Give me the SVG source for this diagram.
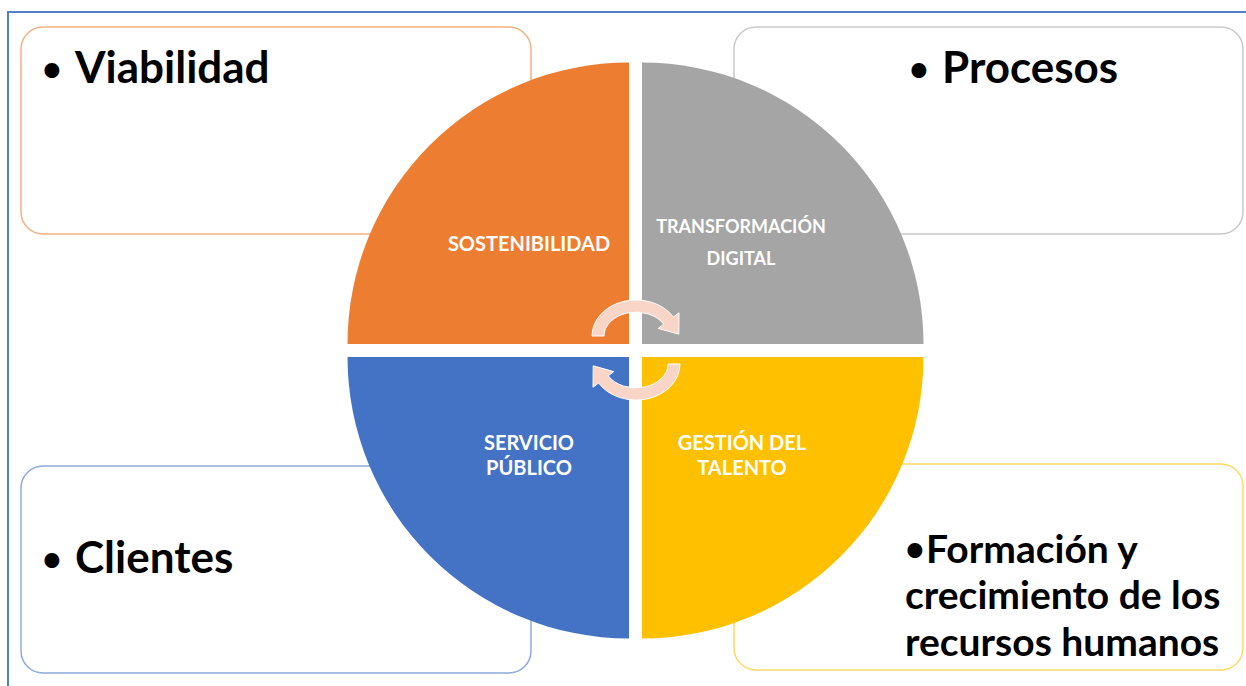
<svg xmlns="http://www.w3.org/2000/svg" width="1246" height="686" viewBox="0 0 1246 686">
<style>
.box{fill:#fff;stroke-width:1.5}
.big{font-family:Lato,"Open Sans","Liberation Sans",sans-serif;font-weight:700;font-size:44px;fill:#000}
.mid{font-family:Lato,"Open Sans","Liberation Sans",sans-serif;font-weight:700;font-size:39px;fill:#000}
.bul{font-size:34px}
.lab{font-family:Lato,"Open Sans","Liberation Sans",sans-serif;font-weight:700;font-size:20px;fill:#fff;text-anchor:middle}
.lab2{font-size:18px}
.arw{fill:#F8D5C6;stroke:#fff;stroke-width:1}
</style>
<rect width="1246" height="686" fill="#fff"/>
<path d="M8,686 L8,12 L1246,12" fill="none" stroke="#4F81C9" stroke-width="2"/>
<g id="box-viabilidad">
<rect class="box" x="21" y="27" width="510" height="207" rx="22" stroke="#F4B183"/>
<text class="big" y="83"><tspan class="bul" x="42" dy="-2">•</tspan><tspan x="75" dy="2">Viabilidad</tspan></text>
</g>
<g id="box-procesos">
<rect class="box" x="734" y="27" width="509" height="207" rx="22" stroke="#C9C9C9"/>
<text class="big" y="83"><tspan class="bul" x="909" dy="-2">•</tspan><tspan x="942" dy="2">Procesos</tspan></text>
</g>
<g id="box-clientes">
<rect class="box" x="21" y="466" width="510" height="207" rx="22" stroke="#8EAADB"/>
<text class="big" y="573"><tspan class="bul" x="42" dy="-2">•</tspan><tspan x="75" dy="2">Clientes</tspan></text>
</g>
<g id="box-formacion">
<rect class="box" x="734" y="464" width="509" height="206" rx="22" stroke="#FFD966"/>
<text class="mid" y="563"><tspan class="bul" x="905" dy="-2">•</tspan><tspan x="926" dy="2">Formación y</tspan></text>
<text class="mid" x="905" y="609">crecimiento de los</text>
<text class="mid" x="905" y="656">recursos humanos</text>
</g>
<g id="q-sostenibilidad">
<path d="M629,344 L347.5,344 A281.5,281.5 0 0 1 629,62.5 Z" fill="#ED7D31"/>
<text class="lab" x="529" y="251">SOSTENIBILIDAD</text>
</g>
<g id="q-transformacion">
<path d="M642,344 L642,62.5 A281.5,281.5 0 0 1 923.5,344 Z" fill="#A5A5A5"/>
<text class="lab lab2" x="741" y="233">TRANSFORMACIÓN</text>
<text class="lab lab2" x="741" y="265">DIGITAL</text>
</g>
<g id="q-servicio">
<path d="M629,357 L629,638.5 A281.5,281.5 0 0 1 347.5,357 Z" fill="#4472C4"/>
<text class="lab" x="529" y="450">SERVICIO</text>
<text class="lab" x="529" y="475">PÚBLICO</text>
</g>
<g id="q-talento">
<path d="M642,357 L923.5,357 A281.5,281.5 0 0 1 642,638.5 Z" fill="#FFC000"/>
<text class="lab" x="742" y="450">GESTIÓN DEL</text>
<text class="lab" x="742" y="475">TALENTO</text>
</g>
<g id="connectors">
<g id="arrow-top">
<path class="arw" d="M592,336 A44,36 0 0 1 673.4,317 L679,312.8 L678.8,334.2 L658.2,328.4 L663.8,324.2 A32,24 0 0 0 604,336 Z"/>
</g>
<g id="arrow-bottom" transform="rotate(180 636 350)">
<path class="arw" d="M592,336 A44,36 0 0 1 673.4,317 L679,312.8 L678.8,334.2 L658.2,328.4 L663.8,324.2 A32,24 0 0 0 604,336 Z"/>
</g>
</g>
</svg>
